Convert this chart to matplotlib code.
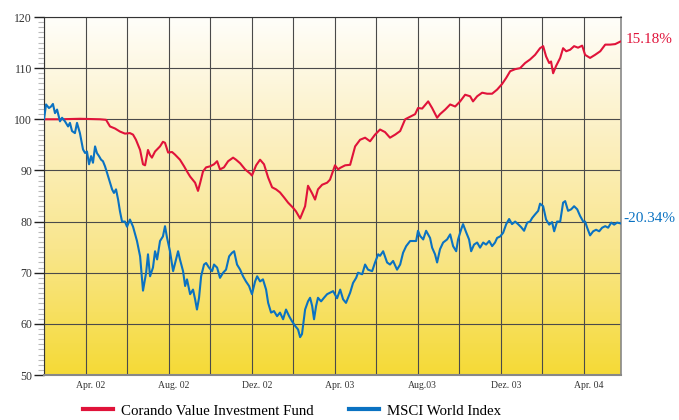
import matplotlib
matplotlib.use("Agg")
import matplotlib.pyplot as plt
import numpy as np
from matplotlib.colors import LinearSegmentedColormap

# months since Feb 2002
fund_m = [0, 0.77, 1.73, 2.70, 2.99, 3.18, 3.42, 3.66, 3.90, 4.14,
          4.29, 4.43, 4.63, 4.77, 4.87, 5.01, 5.11, 5.20, 5.35, 5.59,
          5.73, 5.83, 5.98, 6.17, 6.31, 6.55, 6.75, 6.89, 7.04, 7.28,
          7.42, 7.52, 7.66, 7.81, 8.00, 8.19, 8.34, 8.48, 8.67, 8.87,
          9.11, 9.25, 9.45, 9.69, 9.93, 10.02, 10.22, 10.41, 10.60, 10.80,
          10.99, 11.18, 11.37, 11.57, 11.76, 12.00, 12.14, 12.34, 12.43, 12.58,
          12.72, 12.92, 13.06, 13.20, 13.40, 13.64, 13.78, 14.02, 14.17, 14.27,
          14.51, 14.75, 14.99, 15.23, 15.47, 15.71, 15.95, 16.19, 16.43, 16.67,
          16.92, 17.16, 17.40, 17.64, 17.88, 18.02, 18.22, 18.51, 18.70, 18.94,
          19.08, 19.33, 19.57, 19.81, 20.05, 20.29, 20.53, 20.67, 20.87, 21.11,
          21.35, 21.59, 21.83, 22.07, 22.27, 22.46, 22.70, 22.94, 23.18, 23.42,
          23.66, 23.90, 24.05, 24.19, 24.34, 24.43, 24.53, 24.67, 24.87, 25.01,
          25.16, 25.35, 25.54, 25.73, 25.93, 26.07, 26.31, 26.55, 26.80, 27.04,
          27.28, 27.52, 27.76]
fund_v = [100, 100, 100.1, 100, 99.9, 98.6, 98.2, 97.6, 97.2, 97.3,
          97.0, 96.0, 94.0, 91.2, 91.0, 94.0, 93.0, 92.5, 93.7, 94.7,
          95.6, 95.4, 93.5, 93.6, 93.1, 92.1, 90.8, 89.8, 88.8, 87.6,
          86.0, 87.5, 89.8, 90.6, 90.8, 91.2, 91.8, 90.2, 90.6, 91.8,
          92.5, 92.1, 91.4, 90.2, 89.4, 89.0, 91.0, 92.1, 91.2, 88.6,
          86.7, 86.3, 85.7, 84.7, 83.7, 82.7, 82.0, 80.6, 81.5, 83.0,
          87.0, 85.5, 84.3, 86.3, 87.2, 87.6, 88.2, 91.0, 90.2, 90.5,
          91.0, 91.1, 94.7, 96.0, 96.4, 95.7, 97.0, 98.0, 97.5, 96.4,
          97.0, 97.7, 100.0, 100.5, 101.0, 102.2, 102.1, 103.5, 102.2, 100.3,
          101.0, 101.9, 102.9, 102.5, 103.5, 104.8, 104.5, 103.5, 104.5, 105.2,
          105.0, 105.0, 105.8, 106.9, 108.1, 109.4, 109.8, 110.0, 111.0, 111.7,
          112.6, 113.9, 114.3, 112.3, 111.0, 111.3, 109.0, 110.4, 112.0, 113.9,
          113.3, 113.6, 114.3, 114.0, 114.4, 112.6, 112.0, 112.6, 113.3, 114.6,
          114.6, 114.7, 115.18]

msci_m = [0, 0.10, 0.24, 0.34, 0.43, 0.53, 0.63, 0.77, 0.87, 1.01,
          1.16, 1.25, 1.35, 1.49, 1.59, 1.73, 1.88, 1.98, 2.07, 2.17,
          2.27, 2.36, 2.46, 2.55, 2.65, 2.75, 2.84, 2.94, 3.04, 3.18,
          3.28, 3.37, 3.47, 3.57, 3.66, 3.76, 3.90, 4.00, 4.14, 4.29,
          4.48, 4.63, 4.77, 4.92, 5.01, 5.11, 5.25, 5.35, 5.45, 5.59,
          5.73, 5.83, 5.93, 6.07, 6.22, 6.36, 6.46, 6.55, 6.70, 6.80,
          6.89, 7.04, 7.18, 7.28, 7.37, 7.47, 7.57, 7.71, 7.81, 7.95,
          8.10, 8.19, 8.34, 8.48, 8.63, 8.77, 8.92, 9.06, 9.16, 9.30,
          9.45, 9.59, 9.73, 9.88, 10.02, 10.17, 10.27, 10.41, 10.55, 10.70,
          10.80, 10.94, 11.08, 11.23, 11.37, 11.52, 11.66, 11.81, 11.95, 12.10,
          12.24, 12.34, 12.43, 12.58, 12.72, 12.82, 12.92, 13.01, 13.11, 13.20,
          13.35, 13.49, 13.64, 13.78, 13.93, 14.12, 14.27, 14.41, 14.55, 14.65,
          14.75, 14.89, 15.04, 15.13, 15.33, 15.47, 15.61, 15.81, 15.95, 16.10,
          16.19, 16.34, 16.53, 16.67, 16.82, 17.01, 17.16, 17.30, 17.45, 17.64,
          17.78, 17.93, 18.02, 18.12, 18.27, 18.41, 18.60, 18.70, 18.84, 18.94,
          19.08, 19.23, 19.42, 19.57, 19.71, 19.86, 19.95, 20.10, 20.19, 20.34,
          20.48, 20.58, 20.72, 20.87, 21.01, 21.16, 21.30, 21.45, 21.59, 21.73,
          21.83, 21.98, 22.12, 22.27, 22.41, 22.55, 22.70, 22.84, 22.99, 23.13,
          23.28, 23.42, 23.52, 23.66, 23.81, 23.90, 24.05, 24.19, 24.34, 24.48,
          24.58, 24.72, 24.87, 25.01, 25.11, 25.25, 25.40, 25.54, 25.69, 25.83,
          25.98, 26.07, 26.17, 26.31, 26.46, 26.60, 26.75, 26.89, 27.04, 27.18,
          27.33, 27.47, 27.61, 27.76]
msci_v = [100, 102.9, 102.2, 102.5, 103.0, 101.2, 101.9, 99.6, 100.3, 99.6,
          98.6, 99.3, 97.7, 97.3, 99.3, 97.3, 94.1, 93.4, 93.7, 91.2,
          92.8, 91.5, 94.7, 93.4, 92.8, 92.1, 91.8, 90.8, 89.5, 87.6,
          86.3, 85.6, 86.3, 84.3, 82.0, 80.0, 80.0, 79.0, 80.4, 79.0,
          76.2, 73.2, 66.5, 70.0, 73.6, 69.3, 71.0, 74.2, 72.6, 76.2,
          77.1, 79.1, 76.8, 74.2, 70.3, 72.6, 74.2, 72.6, 70.3, 67.4,
          68.7, 65.8, 66.7, 64.8, 62.8, 65.1, 69.3, 71.6, 71.9, 71.0,
          70.3, 71.6, 71.0, 69.0, 70.0, 70.6, 73.2, 73.9, 74.2, 71.6,
          70.6, 69.3, 68.3, 67.4, 65.8, 68.3, 69.3, 68.3, 68.7, 66.7,
          64.1, 62.2, 62.5, 61.5, 62.2, 60.9, 62.8, 61.5, 60.5, 59.6,
          58.9, 57.4, 58.0, 62.8, 64.4, 65.1, 63.5, 60.9, 63.5, 65.1,
          64.4, 65.1, 65.8, 66.1, 66.4, 65.0, 66.7, 64.8, 64.1, 65.1,
          66.1, 68.0, 69.0, 70.0, 69.7, 71.6, 70.6, 70.3, 72.0, 73.6,
          73.3, 74.2, 72.0, 71.6, 72.3, 70.6, 71.6, 73.9, 75.2, 76.2,
          76.2, 76.2, 78.2, 77.2, 76.5, 78.2, 76.8, 74.9, 73.6, 72.0,
          74.6, 75.9, 76.5, 77.5, 75.2, 74.2, 76.5, 78.5, 79.5, 77.9,
          76.5, 74.2, 75.5, 75.9, 74.9, 75.9, 75.5, 76.2, 75.2, 75.9,
          76.8, 77.1, 77.8, 79.5, 80.5, 79.5, 80.0, 79.5, 78.9, 78.2,
          79.8, 80.0, 80.7, 81.4, 82.1, 83.5, 83.0, 80.4, 79.4, 79.9,
          78.1, 80.0, 80.0, 83.7, 84.0, 82.1, 82.4, 83.0, 82.4, 81.1,
          80.0, 80.0, 78.8, 77.3, 78.1, 78.4, 78.1, 78.8, 79.1, 78.8,
          79.8, 79.4, 79.8, 79.66]

tick_pos = [2, 6, 10, 14, 18, 22, 26]
tick_labels = ["Apr. 02", "Aug. 02", "Dez. 02", "Apr. 03", "Aug.03", "Dez. 03", "Apr. 04"]
fund_name = "Corando Value Investment Fund"
msci_name = "MSCI World Index"
fund_ret = "15.18%"
msci_ret = "-20.34%"

red = "#e0133a"
blue = "#0a72c2"

plt.rcParams['font.family'] = ['Liberation Serif', 'DejaVu Serif']

fig = plt.figure(figsize=(6.79, 4.2), dpi=100)
ax = fig.add_axes([44/679, 1-375/420, (621-44)/679, (375-17)/420])
xmax = 27.8

# background gradient, yellow at the bottom to white at the top
cmap = LinearSegmentedColormap.from_list("bg", [(0, "#f5da36"), (0.35, "#f9e68c"),
                                                 (0.7, "#fcf1c8"), (1, "#fffefa")])
grad = np.linspace(0, 1, 256).reshape(-1, 1)
ax.imshow(grad, cmap=cmap, aspect="auto", origin="lower",
          extent=[0, xmax, 50, 120], zorder=0)

ax.set_xlim(0, xmax)
ax.set_ylim(50, 120)

ax.set_xticks(np.arange(0, 27, 2))
ax.set_xticklabels([])
ax.tick_params(axis="x", length=0)
ax.set_xticks([p + 0.25 for p in tick_pos], minor=True)
ax.set_xticklabels(tick_labels, minor=True, fontsize=7, color="#333333")
ax.tick_params(axis="x", which="minor", length=0, pad=4)

ax.set_yticks(np.arange(50, 121, 10))
ax.set_yticks(np.arange(50, 121, 1), minor=True)
ax.tick_params(axis="y", which="major", length=7, width=1, color="#222222",
               labelsize=8.5, labelcolor="#333333", pad=1.5)
ax.tick_params(axis="y", which="minor", length=4, width=0.8, color="#bbbbbb")

ax.grid(True, which="major", color="#4a4a4a", linewidth=0.8)
ax.spines["left"].set_color("#333333")
ax.spines["top"].set_color("#333333")
ax.spines["bottom"].set_color("#888888")
ax.spines["bottom"].set_linewidth(1.5)
ax.spines["right"].set_color("#888888")
ax.spines["right"].set_linewidth(1.2)

ax.plot(fund_m, fund_v, color=red, lw=1.5, zorder=3, label=fund_name)
ax.plot(msci_m, msci_v, color=blue, lw=1.5, zorder=3, label=msci_name)

ax.text(1.008, fund_v[-1] + 0.4, fund_ret, transform=ax.get_yaxis_transform(),
        color=red, fontsize=11, va="center", ha="left")
ax.text(1.004, msci_v[-1] + 0.9, msci_ret, transform=ax.get_yaxis_transform(),
        color=blue, fontsize=11, va="center", ha="left")

fig.legend(loc="center left", bbox_to_anchor=(83/679, 1-411/420), ncol=2,
           frameon=False, fontsize=10.7, handlelength=2.0, handletextpad=0.55,
           columnspacing=2.4, borderpad=0, borderaxespad=0)
for line in fig.legends[0].get_lines():
    line.set_linewidth(3)

fig.savefig("out.png", dpi=100)
